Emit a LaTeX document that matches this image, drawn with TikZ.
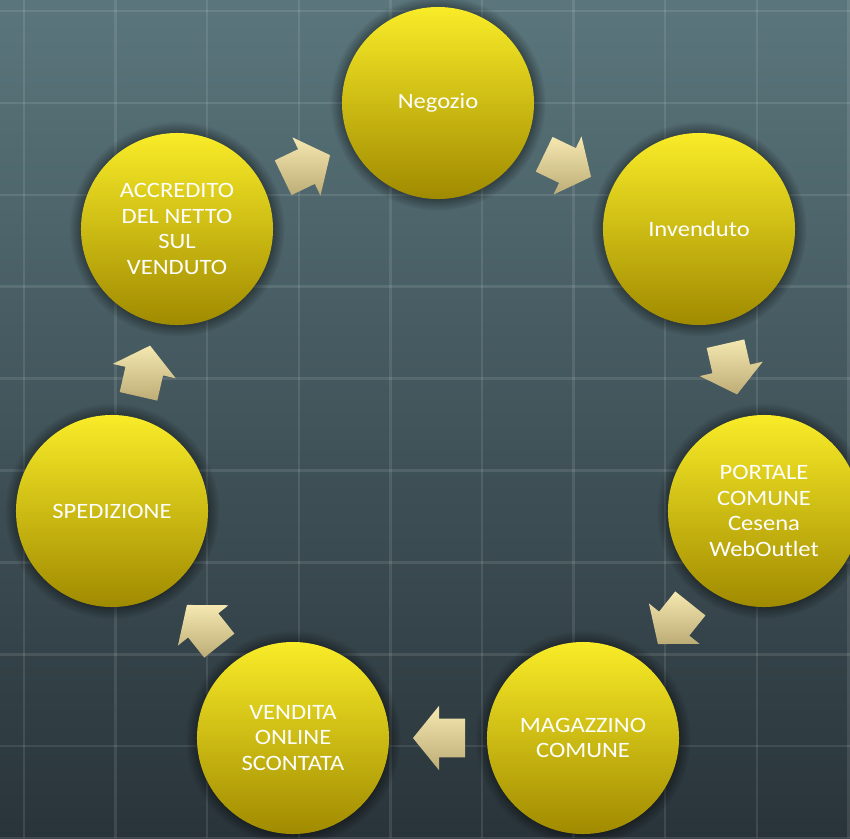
\documentclass[tikz,border=0pt]{standalone}
\usepackage{fontspec}
\setmainfont{Carlito}[FakeStretch=1.12]
\usetikzlibrary{shapes.arrows,shadows,calc}

\definecolor{bgtop}{HTML}{5A767C}
\definecolor{bgbot}{HTML}{29343A}
\definecolor{ballhi}{HTML}{F9EC28}
\definecolor{ballmid}{HTML}{D9C400}
\definecolor{balllo}{HTML}{A08A00}
\definecolor{arrhi}{HTML}{F5E8B0}
\definecolor{arrlo}{HTML}{BDAC76}

\begin{document}
\begin{tikzpicture}[x=0.025cm, y=-0.025cm,
    stage/.style={circle, minimum size=4.8cm, inner sep=0pt, top color=ballhi, middle color=ballmid, bottom color=balllo,
      text=white, align=center, font=\fontsize{15.6}{18.4}\selectfont,
      circular glow={fill=black, opacity=0.5, shadow scale=1.12}},
    flow/.style={single arrow, single arrow head extend=0.325cm, single arrow tip angle=102,
      minimum height=1.3cm, inner xsep=0pt, inner ysep=0.475cm, top color=arrhi, bottom color=arrlo}]
  \useasboundingbox (0,0) rectangle (850,838);
  % background and grid
  \fill[top color=bgtop, bottom color=bgbot] (0,0) rectangle (850,838);
  \foreach \k in {0,...,9} {
    \draw[white, opacity=0.1, line width=1.8pt] ({24+91.6*\k},0) -- ({24+91.6*\k},838);
    \draw[white, opacity=0.1, line width=1.8pt] (0,{11+91.9*\k}) -- (850,{11+91.9*\k});
  }
  % the cycle
  \node[stage] (negozio) at (438,103) {Negozio};
  \node[stage] (invenduto) at (699,229) {Invenduto};
  \node[stage] (portale) at (764,511) {PORTALE\\COMUNE\\Cesena\\WebOutlet};
  \node[stage] (magazzino) at (583,738) {MAGAZZINO\\COMUNE};
  \node[stage] (vendita) at (293,738) {VENDITA\\ONLINE\\SCONTATA};
  \node[stage] (spedizione) at (112,511) {SPEDIZIONE};
  \node[stage] (accredito) at (177,229) {ACCREDITO\\DEL NETTO\\SUL\\VENDUTO};
  % arrows between the stages
  \node[flow, rotate=-25.71, xshift=-0.22cm] (f1) at ($(negozio)!0.5!(invenduto)$) {};
  \node[flow, rotate=-77.14, xshift=-0.22cm] (f2) at ($(invenduto)!0.5!(portale)$) {};
  \node[flow, rotate=-128.57, xshift=-0.22cm] (f3) at ($(portale)!0.5!(magazzino)$) {};
  \node[flow, rotate=180, xshift=-0.22cm] (f4) at ($(magazzino)!0.5!(vendita)$) {};
  \node[flow, rotate=128.57, xshift=-0.22cm] (f5) at ($(vendita)!0.5!(spedizione)$) {};
  \node[flow, rotate=77.14, xshift=-0.22cm] (f6) at ($(spedizione)!0.5!(accredito)$) {};
  \node[flow, rotate=25.71, xshift=-0.22cm] (f7) at ($(accredito)!0.5!(negozio)$) {};
\end{tikzpicture}
\end{document}
